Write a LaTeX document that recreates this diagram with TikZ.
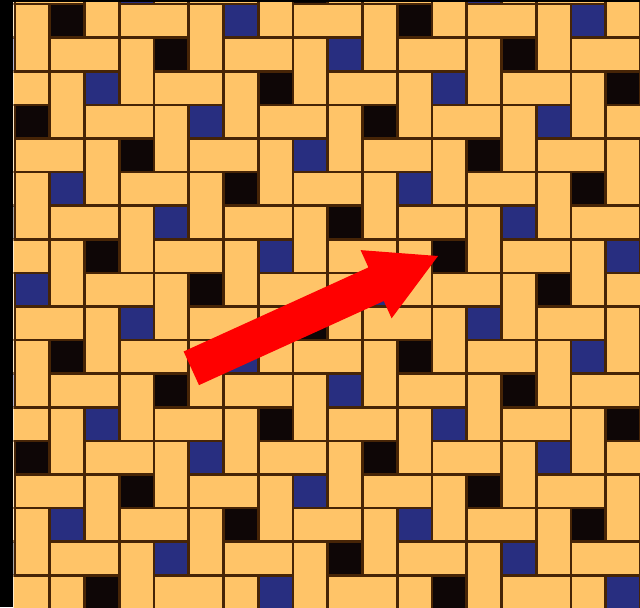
\documentclass[tikz,border=0pt]{standalone}
\usepackage{xcolor}
\usepackage{tikz}

\definecolor{tileorange}{RGB}{255,196,104}
\definecolor{groutbrown}{RGB}{70,36,6}
\definecolor{tileblue}{RGB}{40,46,128}
\definecolor{tileblack}{RGB}{14,6,6}

\begin{document}
\begin{tikzpicture}[
    x=0.5pt, y=-0.5pt,
    slab/.style={fill=tileorange, draw=groutbrown, line width=1.3pt},
    darkcell/.style={fill=tileblack, draw=groutbrown, line width=1.3pt},
    bluecell/.style={fill=tileblue, draw=groutbrown, line width=1.3pt},
    pointer/.style={fill=red}
]
    \useasboundingbox (0,0) rectangle (640,607);
    \clip (0,0) rectangle (640,607);

    % ── frame ──
    \fill[black] (0,0) rectangle (640,607);
    \fill[white] (12.5,2) rectangle (640,607);

    % ── pinwheel tiling (square + one flat and one upright slab per square) ──
    \begin{scope}[shift={(15,4)}, x=17.375pt, y=-16.8pt]
        \clip (-0.04,-0.04) rectangle (19,19);
        \fill[tileorange] (0,0) rectangle (19,19);
        \foreach \row in {-1,...,19} {
            \foreach \kk in {-1,...,4} {
                \pgfmathtruncatemacro{\col}{Mod(1-2*\row,5)+5*\kk}
                \pgfmathtruncatemacro{\q}{round((\col-1-3*\row)/5)}
                \pgfmathtruncatemacro{\m}{Mod(\q,2)}
                \draw[slab] (\col-1,\row-1) rectangle (\col+1,\row);
                \draw[slab] (\col+1,\row-1) rectangle (\col+2,\row+1);
                \ifnum\m=0
                    \draw[darkcell] (\col,\row) rectangle (\col+1,\row+1);
                \else
                    \draw[bluecell] (\col,\row) rectangle (\col+1,\row+1);
                \fi
            }
        }
    \end{scope}

    % ── arrow ──
    \coordinate (tip) at (438,256);
    \fill[pointer] (183.6,351.5) -- (368.4,267.4) -- (360.6,250.1) -- (tip)
        -- (391.6,318.3) -- (383.8,301.0) -- (199.0,385.1) -- cycle;

\end{tikzpicture}
\end{document}
